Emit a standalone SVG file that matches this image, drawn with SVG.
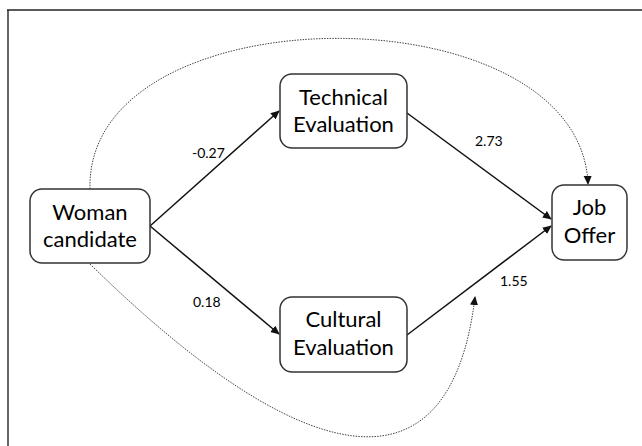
<svg xmlns="http://www.w3.org/2000/svg" width="642" height="446" viewBox="0 0 642 446">
<style>
.box{fill:#fff;stroke:#333;stroke-width:1.5}
.t{font-family:Lato,"Liberation Sans",sans-serif;font-size:22px;fill:#000;text-anchor:middle}
.l{font-family:Lato,"Liberation Sans",sans-serif;font-size:14px;fill:#000}
.e{fill:none;stroke:#111;stroke-width:1.5}
.d{fill:none;stroke:#444;stroke-width:1;stroke-dasharray:1.5 1.2}
</style>
<defs>
<marker id="a" viewBox="0 0 10 10" refX="9" refY="5" markerWidth="9" markerHeight="9" markerUnits="userSpaceOnUse" orient="auto"><path d="M0,0.5 L10,5 L0,9.5 z" fill="#111"/></marker>
</defs>
<rect width="642" height="446" fill="#fff"/>
<line x1="8" y1="10" x2="8" y2="446" stroke="#666" stroke-width="2"/>
<line x1="7" y1="10" x2="642" y2="10" stroke="#222" stroke-width="1.5"/>
<g id="connectors">
<path class="d" d="M90,189 C85,-10 580,-12 588,184" marker-end="url(#a)"/>
<path class="d" d="M90,264 C300,470 450,505 475,297" marker-end="url(#a)"/>
<line class="e" x1="150" y1="226" x2="279" y2="111" marker-end="url(#a)"/>
<line class="e" x1="150" y1="226" x2="279" y2="334" marker-end="url(#a)"/>
<line class="e" x1="407" y1="113" x2="551" y2="219" marker-end="url(#a)"/>
<line class="e" x1="407" y1="335" x2="551" y2="226" marker-end="url(#a)"/>
<text class="l" x="192" y="158">-0.27</text>
<text class="l" x="475" y="146">2.73</text>
<text class="l" x="193" y="307">0.18</text>
<text class="l" x="500" y="286">1.55</text>
</g>
<g id="woman">
<rect class="box" x="30" y="189" width="120" height="74" rx="12"/>
<text class="t" x="90" y="220">Woman</text>
<text class="t" x="90" y="247">candidate</text>
</g>
<g id="technical">
<rect class="box" x="280" y="74" width="127" height="74" rx="12"/>
<text class="t" x="343.5" y="105">Technical</text>
<text class="t" x="343.5" y="132">Evaluation</text>
</g>
<g id="cultural">
<rect class="box" x="280" y="297" width="127" height="75" rx="12"/>
<text class="t" x="343.5" y="327">Cultural</text>
<text class="t" x="343.5" y="355">Evaluation</text>
</g>
<g id="joboffer">
<rect class="box" x="552" y="185" width="75" height="75" rx="12"/>
<text class="t" x="589.5" y="215">Job</text>
<text class="t" x="589.5" y="243">Offer</text>
</g>
</svg>
